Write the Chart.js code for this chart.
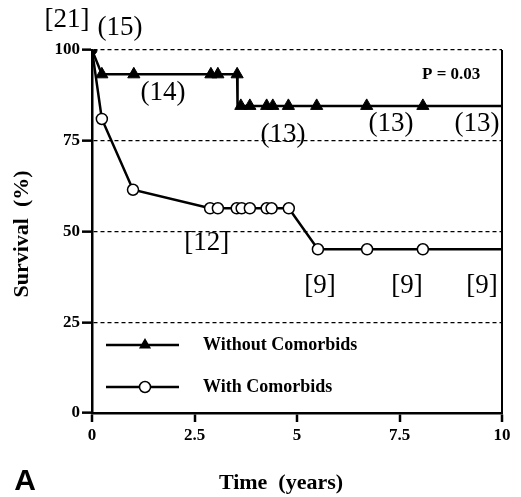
<!DOCTYPE html>
<html>
<head>
<meta charset="utf-8">
<script src="https://cdn.jsdelivr.net/npm/chart.js@4.4.1/dist/chart.umd.min.js"></script>
<style>
  html, body { margin: 0; padding: 0; background: #fff; }
  canvas { display: block; }
</style>
</head>
<body>
<canvas id="km" width="521" height="497"></canvas>
<script>
// axis ticks
const xTicks = [0, 2.5, 5, 7.5, 10];
const yTicks = [0, 25, 50, 75, 100];

// Without comorbids (triangles)
const withoutTime = [0, 0.24, 1.02, 2.9, 3.07, 3.54, 3.55, 3.63, 3.85, 4.26, 4.41, 4.79, 5.48, 6.7, 8.07, 10];
const withoutSurv = [100, 93.3, 93.3, 93.3, 93.3, 93.3, 84.6, 84.6, 84.6, 84.6, 84.6, 84.6, 84.6, 84.6, 84.6, 84.6];
const withoutMark = ['dot', 'tri', 'tri', 'tri', 'tri', 'tri', '', 'tri', 'tri', 'tri', 'tri', 'tri', 'tri', 'tri', 'tri', ''];

// With comorbids (open circles)
const withTime = [0, 0.24, 1.0, 2.88, 3.07, 3.53, 3.65, 3.85, 4.26, 4.38, 4.8, 5.51, 6.71, 8.07, 10];
const withSurv = [100, 81.0, 61.5, 56.4, 56.4, 56.4, 56.4, 56.4, 56.4, 56.4, 56.4, 45.1, 45.1, 45.1, 45.1];
const withMark = ['', 'o', 'o', 'o', 'o', 'o', 'o', 'o', 'o', 'o', 'o', 'o', 'o', 'o', ''];

// numbers at risk, placed in data units
const noteText = ['[21]', '(15)', '(14)', '(13)', '(13)', '(13)', '[12]', '[9]', '[9]', '[9]'];
const noteX = [-0.61, 0.68, 1.73, 4.66, 7.29, 9.39, 2.8, 5.56, 7.68, 9.51];
const noteY = [108.3, 106, 88.2, 76.6, 79.6, 79.6, 46.8, 35.0, 35.0, 35.0];

const pText = 'P = 0.03';
const pX = 8.76;
const pY = 93.1;

const legendLabels = ['Without Comorbids', 'With Comorbids'];

const SERIF = '"Liberation Serif", "Times New Roman", serif';

function pts(t, s) {
  return t.map((v, i) => ({ x: v, y: s[i] }));
}

const triRadius = withoutMark.map(m => (m === 'tri' ? 7 : m === 'dot' ? 5 : 0));
const triStyle = withoutMark.map(m => (m === 'dot' ? 'circle' : 'triangle'));
const circRadius = withMark.map(m => (m === 'o' ? 5.5 : 0));

function drawTri(ctx, cx, cy, r) {
  ctx.beginPath();
  ctx.moveTo(cx, cy - r);
  ctx.lineTo(cx + r * Math.sin(Math.PI / 3), cy + r / 2);
  ctx.lineTo(cx - r * Math.sin(Math.PI / 3), cy + r / 2);
  ctx.closePath();
  ctx.fill();
}

const overlay = {
  id: 'overlay',
  afterDatasetsDraw(chart) {
    const { ctx, scales: { x, y }, chartArea: a } = chart;
    ctx.save();
    ctx.fillStyle = '#000';
    ctx.strokeStyle = '#000';
    ctx.textAlign = 'center';
    ctx.textBaseline = 'middle';

    ctx.font = '27px ' + SERIF;
    noteText.forEach((t, i) => {
      ctx.fillText(t, x.getPixelForValue(noteX[i]), y.getPixelForValue(noteY[i]));
    });

    ctx.font = 'bold 17px ' + SERIF;
    ctx.fillText(pText, x.getPixelForValue(pX), y.getPixelForValue(pY));

    // legend
    const rows = [a.bottom - 68, a.bottom - 26];
    const lx0 = a.left + 14, lx1 = a.left + 87, mx = a.left + 53;
    rows.forEach((ry, i) => {
      ctx.lineWidth = 2.5;
      ctx.beginPath();
      ctx.moveTo(lx0, ry);
      ctx.lineTo(lx1, ry);
      ctx.stroke();
      if (i === 0) {
        drawTri(ctx, mx, ry, 7);
      } else {
        ctx.beginPath();
        ctx.arc(mx, ry, 5.5, 0, Math.PI * 2);
        ctx.fillStyle = '#fff';
        ctx.fill();
        ctx.lineWidth = 1.5;
        ctx.stroke();
        ctx.fillStyle = '#000';
      }
      ctx.textAlign = 'left';
      ctx.font = 'bold 18px ' + SERIF;
      ctx.fillText(legendLabels[i], a.left + 111, ry);
    });

    // axis titles
    ctx.textAlign = 'center';
    ctx.font = 'bold 22px ' + SERIF;
    ctx.fillText('Time  (years)', 281, 483);
    ctx.save();
    ctx.translate(22, 234);
    ctx.rotate(-Math.PI / 2);
    ctx.fillText('Survival  (%)', 0, 0);
    ctx.restore();

    ctx.font = 'bold 30px "Liberation Sans", Arial, sans-serif';
    ctx.fillText('A', 25, 482);
    ctx.restore();
  }
};

new Chart(document.getElementById('km'), {
  type: 'line',
  data: {
    datasets: [
      {
        label: legendLabels[0],
        data: pts(withoutTime, withoutSurv),
        borderColor: '#000',
        borderWidth: 2.5,
        pointStyle: triStyle,
        pointRadius: triRadius,
        pointBackgroundColor: '#000',
        pointBorderColor: '#000',
        pointBorderWidth: 1,
        tension: 0,
      },
      {
        label: legendLabels[1],
        data: pts(withTime, withSurv),
        borderColor: '#000',
        borderWidth: 2.5,
        pointStyle: 'circle',
        pointRadius: circRadius,
        pointBackgroundColor: '#fff',
        pointBorderColor: '#000',
        pointBorderWidth: 1.5,
        tension: 0,
      },
    ],
  },
  options: {
    responsive: false,
    animation: false,
    layout: { padding: { left: 0, top: 50, right: 19, bottom: 0 } },
    plugins: { legend: { display: false }, tooltip: { enabled: false } },
    scales: {
      x: {
        type: 'linear',
        min: xTicks[0],
        max: xTicks[xTicks.length - 1],
        afterBuildTicks: s => { s.ticks = xTicks.map(v => ({ value: v })); },
        afterFit: s => { s.height = 84; },
        border: { display: true, color: '#000', width: 2.5 },
        grid: {
          drawOnChartArea: true,
          color: c => (c.tick && c.tick.value === 10 ? '#000' : 'rgba(0,0,0,0)'),
          lineWidth: 2,
          tickColor: '#000',
          tickWidth: 2.5,
          tickLength: 9,
          tickBorderDash: [],
        },
        ticks: {
          color: '#000',
          padding: 3,
          maxRotation: 0,
          font: { family: SERIF, size: 17, weight: 'bold' },
        },
      },
      y: {
        min: yTicks[0],
        max: yTicks[yTicks.length - 1],
        afterBuildTicks: s => { s.ticks = yTicks.map(v => ({ value: v })); },
        afterFit: s => { s.width = 92; },
        border: { display: true, color: '#000', width: 2.5, dash: [4, 3] },
        grid: {
          color: '#000',
          lineWidth: 1.3,
          tickColor: '#000',
          tickWidth: 2.5,
          tickLength: 10,
          tickBorderDash: [],
        },
        ticks: {
          color: '#000',
          padding: 2,
          font: { family: SERIF, size: 17, weight: 'bold' },
        },
      },
    },
  },
  plugins: [overlay],
});
</script>
</body>
</html>
